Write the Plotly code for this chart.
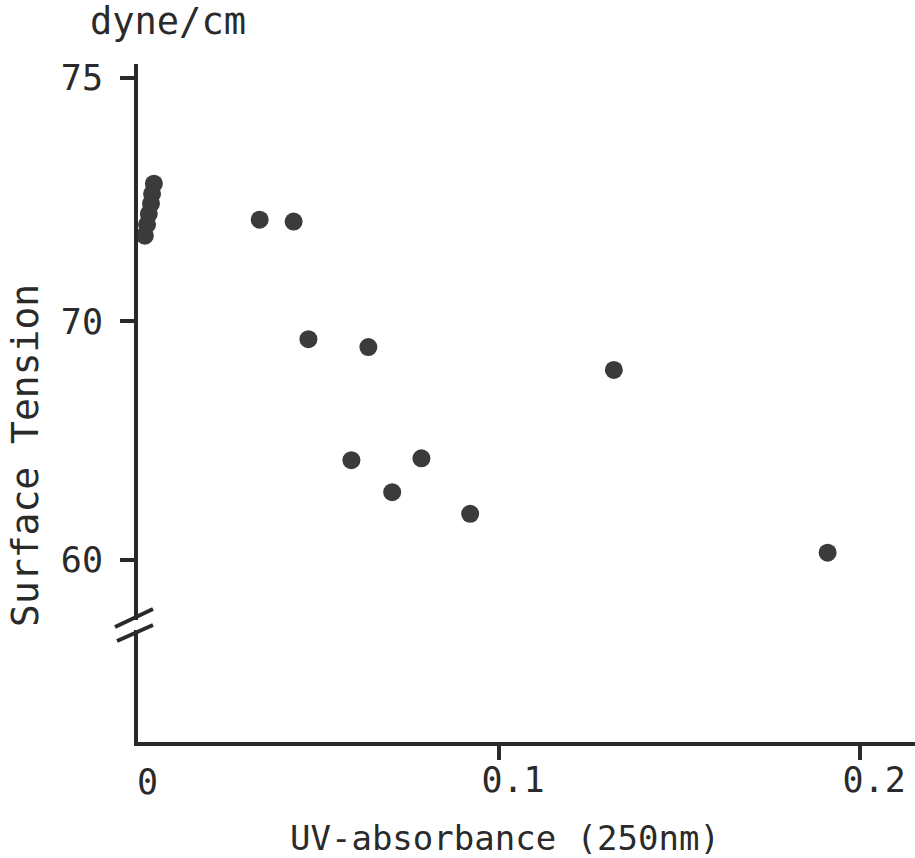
import plotly.graph_objects as go

# Data
uv_absorbance = [0.0044, 0.0039, 0.0036, 0.0030, 0.0025, 0.0019,
                 0.0337, 0.0431, 0.0472, 0.0638, 0.0591, 0.0704,
                 0.0785, 0.0920, 0.1318, 0.1910]
surface_tension = [72.83, 72.62, 72.42, 72.21, 71.99, 71.76,
                   72.09, 72.05, 69.25, 68.92, 64.17, 62.83,
                   64.25, 61.92, 67.96, 60.29]
x_tick_vals = [0.1, 0.2]
x_tick_text = ["0.1", "0.2"]
y_tick_vals = [75, 70, 60]
y_tick_text = ["75", "70", "60"]

# broken axis: below 70 the scale is compressed
BREAK = 70.0
LOW_FACTOR = 0.49


def ty(v):
    return v if v >= BREAK else BREAK - (BREAK - v) * LOW_FACTOR


W, H = 915, 858
ML, MR, MT, MB = 138, 0, 64, 116
PW, PH = W - ML - MR, H - MT - MB


def px(x):
    return (x - ML) / PW


def py(y):
    return (H - MB - y) / PH


FONT = "DejaVu Sans Mono"
INK = "#2a2a2a"

fig = go.Figure()
fig.add_trace(go.Scatter(
    x=uv_absorbance,
    y=[ty(v) for v in surface_tension],
    mode="markers",
    marker=dict(size=18, color="#3b3b3b", line=dict(width=0)),
    cliponaxis=False,
    showlegend=False,
))

fig.update_layout(
    width=W, height=H,
    margin=dict(l=ML, r=MR, t=MT, b=MB),
    paper_bgcolor="white", plot_bgcolor="white",
    font=dict(family=FONT, color=INK),
    xaxis=dict(
        range=[0, 0.2152], showgrid=False, zeroline=False,
        showline=True, linewidth=4, linecolor=INK,
        tickvals=x_tick_vals, ticktext=x_tick_text,
        ticks="outside", ticklen=14, tickwidth=4, tickcolor=INK,
        tickfont=dict(size=35, family=FONT, color=INK),
        ticklabelstandoff=-10, ticklabelshift=14,
    ),
    yaxis=dict(
        range=[61.35, 75.29], showgrid=False, zeroline=False,
        showline=True, linewidth=4, linecolor=INK,
        tickvals=[ty(v) for v in y_tick_vals], ticktext=y_tick_text,
        ticks="outside", ticklen=14, tickwidth=4, tickcolor=INK,
        tickfont=dict(size=35, family=FONT, color=INK),
        ticklabelstandoff=10,
    ),
)

annotations = [
    dict(text="UV-absorbance (250nm)", x=px(505), y=py(838),
         font=dict(size=34)),
    dict(text="Surface Tension", x=px(25), y=py(456), textangle=-90,
         font=dict(size=38)),
    dict(text="dyne/cm", x=px(168), y=py(22), font=dict(size=37)),
    dict(text="0", x=px(147), y=py(782), font=dict(size=35)),
]
for a in annotations:
    a.update(xref="paper", yref="paper", showarrow=False,
             xanchor="center", yanchor="middle")
    a["font"].update(family=FONT, color=INK)
fig.update_layout(annotations=annotations)

shapes = [
    # gap in the y axis
    dict(type="rect", x0=px(128), x1=px(144), y0=py(620), y1=py(630),
         fillcolor="white", line=dict(width=0)),
    # break marks
    dict(type="line", x0=px(115), y0=py(627), x1=px(153), y1=py(609),
         line=dict(color=INK, width=4)),
    dict(type="line", x0=px(117), y0=py(641), x1=px(153), y1=py(625),
         line=dict(color=INK, width=4)),
]
for s in shapes:
    s.update(xref="paper", yref="paper", layer="above")
fig.update_layout(shapes=shapes)

fig.write_html(
    "out.html",
    config={"displayModeBar": False},
    post_script="document.body.style.margin='0';document.body.style.padding='0';",
)
